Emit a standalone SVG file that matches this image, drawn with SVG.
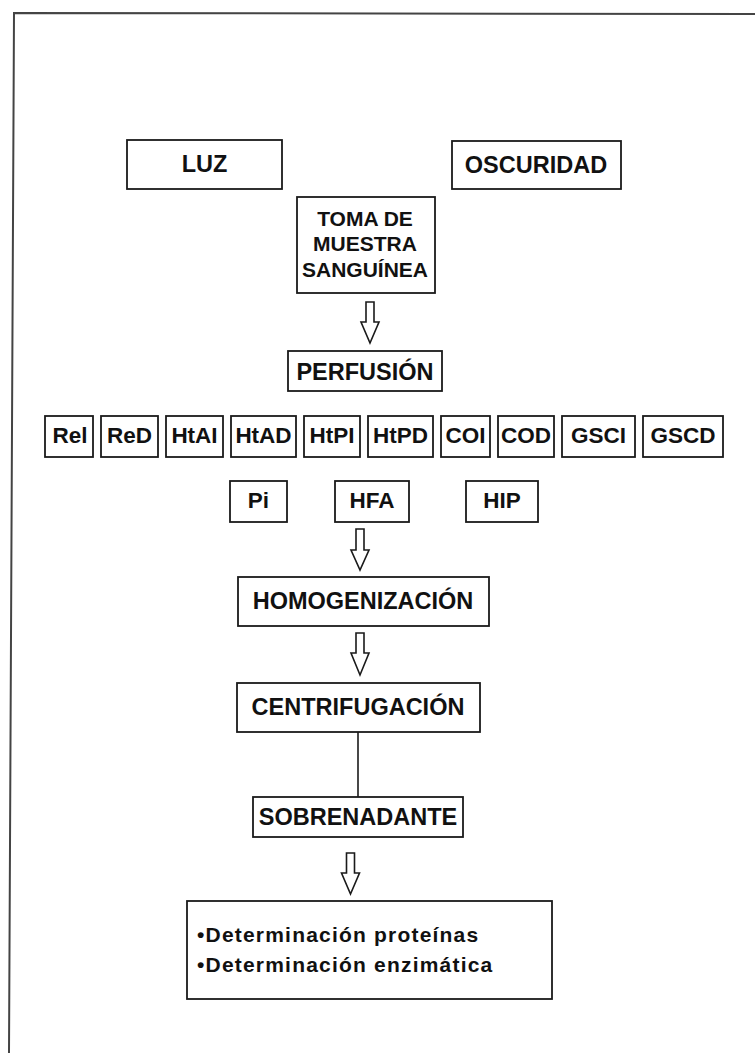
<svg xmlns="http://www.w3.org/2000/svg" width="755" height="1053" viewBox="0 0 755 1053">
<style>
.bx{fill:#fff;stroke:#1a1a1a;stroke-width:1.8}
.t{font-family:"Liberation Sans",Arial,sans-serif;font-weight:bold;fill:#111;text-anchor:middle}
.big{font-size:23.5px}
.sm{font-size:22.5px}
.mid{font-size:21px}
.lst{font-family:"Liberation Sans",Arial,sans-serif;font-weight:bold;fill:#111;font-size:21px;letter-spacing:1.2px}
.arr{fill:#fff;stroke:#1a1a1a;stroke-width:1.6;stroke-linejoin:miter}
.ln{stroke:#1a1a1a;stroke-width:1.6;fill:none}
.frame{stroke:#444;stroke-width:2;fill:none}
</style>
<rect width="755" height="1053" fill="#fff"/>
<g id="frame"><polyline class="frame" points="9,1053 14,13 755,14"/></g>
<g id="connectors">
<path class="arr" d="M366,302 H374 V322 H379 L370,343 L361,322 H366 Z"/>
<path class="arr" d="M356,529 H364 V550 H369 L360,570 L351,550 H356 Z"/>
<path class="arr" d="M356,633 H364 V653 H369 L360,675 L351,653 H356 Z"/>
<line class="ln" x1="358" y1="732" x2="358" y2="797"/>
<path class="arr" d="M346.5,853 H354.5 V873 H359.5 L350.5,894 L341.5,873 H346.5 Z"/>
</g>
<g id="luz"><rect class="bx" x="127" y="140" width="155" height="49"/><text class="t big" x="204.5" y="172">LUZ</text></g>
<g id="oscuridad"><rect class="bx" x="452" y="141" width="169" height="48"/><text class="t big" x="536" y="173">OSCURIDAD</text></g>
<g id="toma"><rect class="bx" x="297" y="197" width="138" height="96"/>
<text class="t mid" x="365" y="226">TOMA DE</text><text class="t mid" x="365" y="251">MUESTRA</text><text class="t mid" x="365" y="277">SANGUÍNEA</text></g>
<g id="perfusion"><rect class="bx" x="288" y="351" width="154" height="40"/><text class="t big" x="365" y="380">PERFUSIÓN</text></g>
<g id="rel"><rect class="bx" x="45" y="416" width="48" height="41"/><text class="t sm" x="70" y="443">Rel</text></g>
<g id="red"><rect class="bx" x="101" y="416" width="57" height="41"/><text class="t sm" x="129.5" y="443">ReD</text></g>
<g id="htai"><rect class="bx" x="166" y="416" width="57" height="41"/><text class="t sm" x="194.5" y="443">HtAI</text></g>
<g id="htad"><rect class="bx" x="231" y="416" width="65" height="41"/><text class="t sm" x="263.5" y="443">HtAD</text></g>
<g id="htpi"><rect class="bx" x="304" y="416" width="56" height="41"/><text class="t sm" x="332" y="443">HtPI</text></g>
<g id="htpd"><rect class="bx" x="368" y="416" width="65" height="41"/><text class="t sm" x="400.5" y="443">HtPD</text></g>
<g id="coi"><rect class="bx" x="441" y="416" width="49" height="41"/><text class="t sm" x="465.5" y="443">COI</text></g>
<g id="cod"><rect class="bx" x="498" y="416" width="56" height="41"/><text class="t sm" x="526" y="443">COD</text></g>
<g id="gsci"><rect class="bx" x="562" y="416" width="73" height="41"/><text class="t sm" x="598.5" y="443">GSCI</text></g>
<g id="gscd"><rect class="bx" x="643" y="416" width="80" height="41"/><text class="t sm" x="683" y="443">GSCD</text></g>
<g id="pi"><rect class="bx" x="230" y="481" width="57" height="41"/><text class="t sm" x="258.5" y="508">Pi</text></g>
<g id="hfa"><rect class="bx" x="335" y="481" width="74" height="41"/><text class="t sm" x="372" y="508">HFA</text></g>
<g id="hip"><rect class="bx" x="466" y="481" width="72" height="41"/><text class="t sm" x="502" y="508">HIP</text></g>
<g id="homogenizacion"><rect class="bx" x="238" y="577" width="251" height="49"/><text class="t big" x="363" y="609">HOMOGENIZACIÓN</text></g>
<g id="centrifugacion"><rect class="bx" x="237" y="683" width="243" height="49"/><text class="t big" x="358" y="715">CENTRIFUGACIÓN</text></g>
<g id="sobrenadante"><rect class="bx" x="253" y="797" width="210" height="40"/><text class="t big" x="358" y="825">SOBRENADANTE</text></g>
<g id="determinacion"><rect class="bx" x="187" y="901" width="365" height="98"/>
<text class="lst" x="197" y="942">•Determinación proteínas</text>
<text class="lst" x="197" y="972">•Determinación enzimática</text></g>
</svg>
